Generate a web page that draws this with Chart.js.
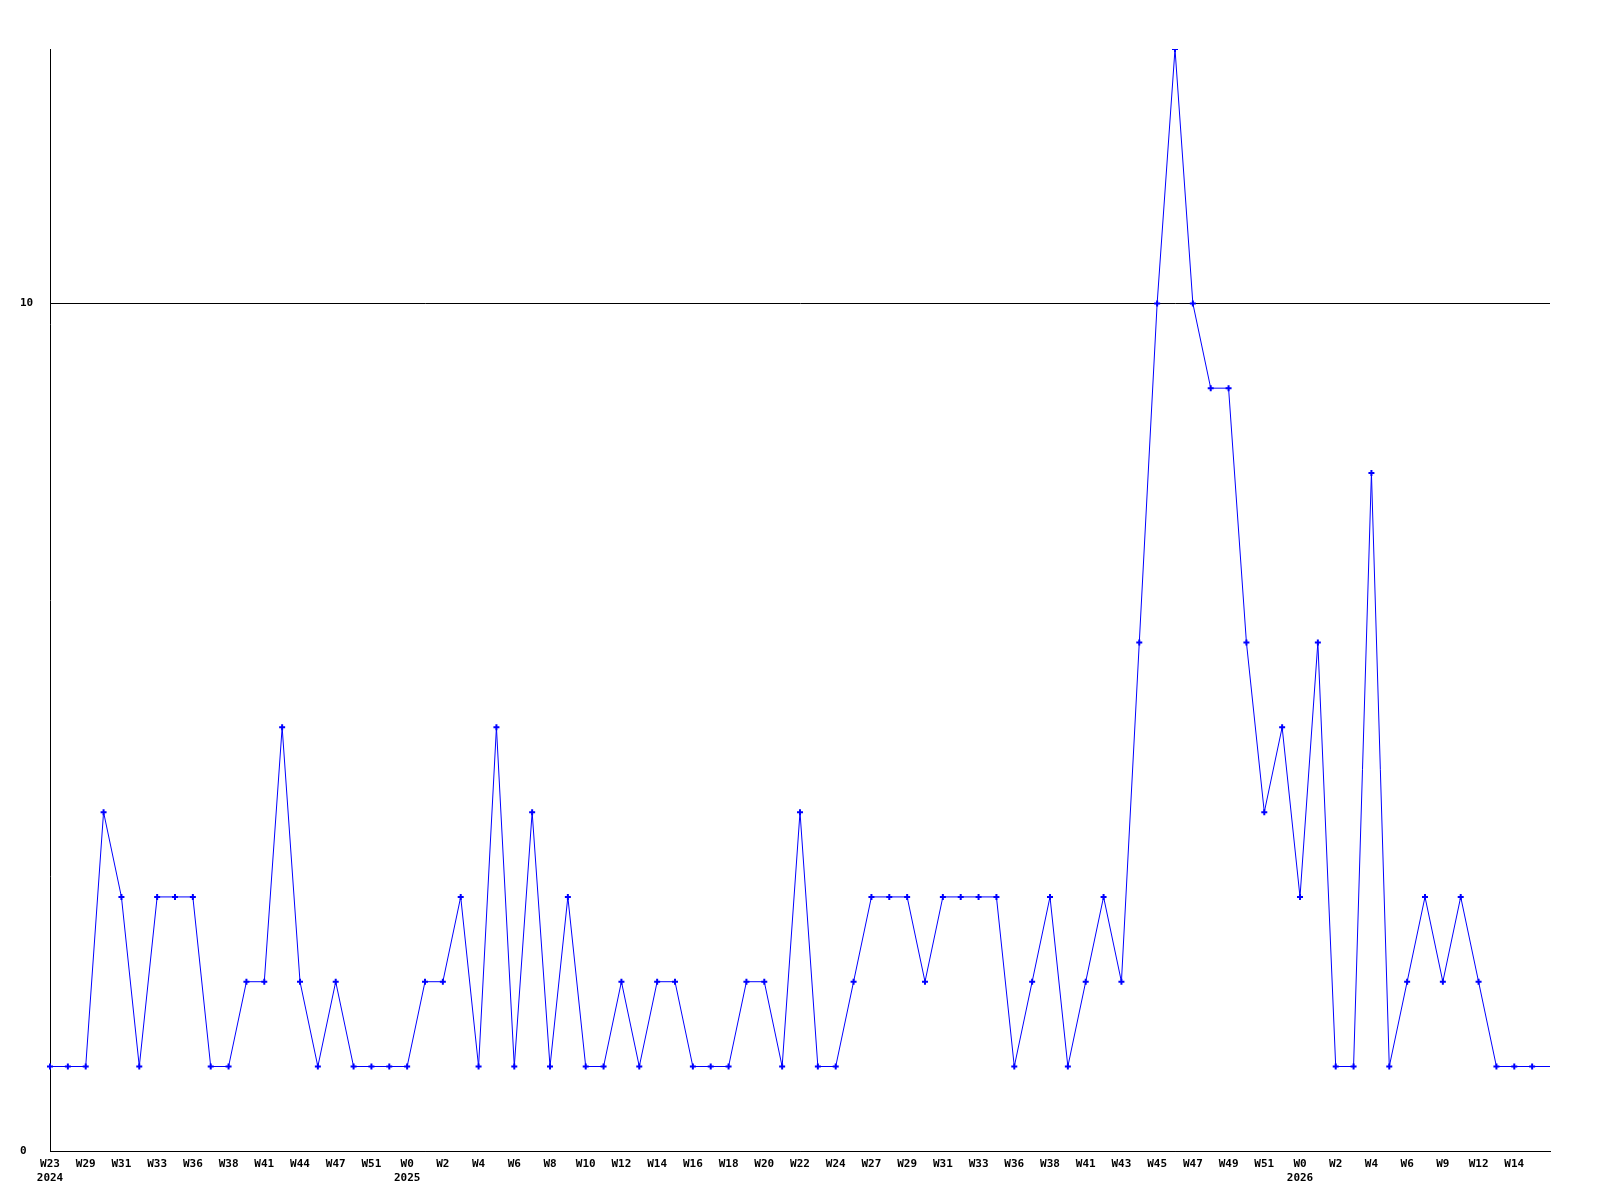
<!DOCTYPE html>
<html>
<head>
<meta charset="utf-8">
<script src="https://cdn.jsdelivr.net/npm/chart.js@4"></script>
<style>
  body { margin: 0; background: #fff; }
  canvas { display: block; }
</style>
</head>
<body>
<canvas id="weekChart" width="1600" height="1200"></canvas>
<script>
// week labels shown under every second point
const weekTicks = [
  "W23", "W29", "W31", "W33", "W36", "W38", "W41", "W44", "W47", "W51",
  "W0", "W2", "W4", "W6", "W8", "W10", "W12", "W14", "W16", "W18",
  "W20", "W22", "W24", "W27", "W29", "W31", "W33", "W36", "W38", "W41",
  "W43", "W45", "W47", "W49", "W51",
  "W0", "W2", "W4", "W6", "W9", "W12", "W14"
];
// year printed under the week label at that tick index
const yearTicks = { 0: "2024", 10: "2025", 35: "2026" };

const counts = [
  1, 1, 1, 4, 3, 1, 3, 3, 3, 1,
  1, 2, 2, 5, 2, 1, 2, 1, 1, 1,
  1, 2, 2, 3, 1, 5, 1, 4, 1, 3,
  1, 1, 2, 1, 2, 2, 1, 1, 1, 2,
  2, 1, 4, 1, 1, 2, 3, 3, 3, 2,
  3, 3, 3, 3, 1, 2, 3, 1, 2, 3,
  2, 6, 10, 13, 10, 9, 9, 6, 4, 5,
  3, 6, 1, 1, 8, 1, 2, 3, 2, 3,
  2, 1, 1, 1, 1
];

const yTicks = [0, 10];
const yMax = 13;

const labels = counts.map((v, i) => {
  if (i % 2 !== 0) return "";
  const k = i / 2;
  if (k >= weekTicks.length) return "";
  return yearTicks[k] ? [weekTicks[k], yearTicks[k]] : weekTicks[k];
});

const tickFont = { family: "'DejaVu Sans Mono', monospace", size: 11, weight: "bold", lineHeight: 1.35 };

new Chart(document.getElementById("weekChart").getContext("2d"), {
  type: "line",
  data: {
    labels,
    datasets: [{
      data: counts,
      borderColor: "#0000ff",
      backgroundColor: "#0000ff",
      borderWidth: 1,
      tension: 0,
      pointStyle: "cross",
      pointRadius: ctx => (ctx.dataIndex === counts.length - 1 ? 0 : 3),
      pointBorderWidth: 2,
      pointBorderColor: "#0000ff",
    }],
  },
  options: {
    responsive: false,
    animation: false,
    layout: { padding: { left: 20, right: 50, top: 49, bottom: 9 } },
    plugins: { legend: { display: false }, tooltip: { enabled: false } },
    scales: {
      x: {
        offset: false,
        grid: { display: false, drawTicks: false },
        border: { color: "#000", width: 1 },
        ticks: {
          autoSkip: false,
          maxRotation: 0,
          padding: 5,
          color: "#000",
          font: tickFont,
        },
      },
      y: {
        min: 0,
        max: yMax,
        afterBuildTicks: s => { s.ticks = yTicks.map(v => ({ value: v })); },
        afterFit: s => { s.width = 30; },
        grid: { color: "#000", lineWidth: 1, drawTicks: false },
        border: { color: "#000", width: 1 },
        ticks: { crossAlign: "far", padding: 16, color: "#000", font: tickFont },
      },
    },
  },
});
</script>
</body>
</html>
